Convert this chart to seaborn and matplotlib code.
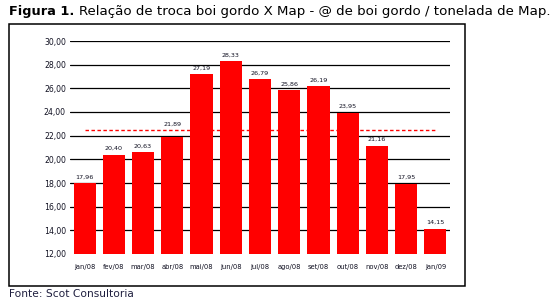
import matplotlib
matplotlib.use("Agg")
import matplotlib.pyplot as plt
import seaborn as sns
import pandas as pd
from matplotlib.ticker import FuncFormatter
from matplotlib.patches import Rectangle

months = ["jan/08", "fev/08", "mar/08", "abr/08", "mai/08", "jun/08", "jul/08",
          "ago/08", "set/08", "out/08", "nov/08", "dez/08", "jan/09"]
values = [17.96, 20.40, 20.63, 21.89, 27.19, 28.33, 26.79,
          25.86, 26.19, 23.95, 21.16, 17.95, 14.15]
average = [22.50]
y_ticks = [12, 14, 16, 18, 20, 22, 24, 26, 28, 30]

sns.set_theme(style="white")
plt.rcParams['font.family'] = ['DejaVu Sans']

W, H = 559, 302
fig = plt.figure(figsize=(W / 100, H / 100), dpi=100)
fig.patch.set_facecolor("white")

# outer frame
fig.patches.append(Rectangle((9 / W, 1 - 286 / H), (465 - 9) / W, (286 - 24) / H,
                             transform=fig.transFigure, fill=False,
                             edgecolor="black", linewidth=1.1))

ax = fig.add_axes([70 / W, 1 - 254 / H, (450 - 70) / W, (254 - 41) / H])
df = pd.DataFrame({"mes": months, "valor": values})
sns.barplot(data=df, x="mes", y="valor", color="#FF0000", saturation=1,
            width=0.76, ax=ax, zorder=3, linewidth=0, edgecolor="none")

ax.set_ylim(12, 30)
ax.set_xlim(-0.5, len(months) - 0.5)
ax.set_yticks(y_ticks)
ax.yaxis.set_major_formatter(FuncFormatter(lambda v, p: f"{v:.2f}".replace(".", ",")))
for t in y_ticks[1:]:
    ax.axhline(t, color="black", linewidth=0.9, zorder=1)

ax.plot([0, len(months) - 1], [average[0]] * 2, color="#FF0000", linewidth=1.0,
        linestyle=(0, (2.5, 1.8)), zorder=4)

labels = [f"{v:.2f}".replace(".", ",") for v in values]
anns = ax.bar_label(ax.containers[0], labels=labels, padding=2.5, fontsize=4.6,
                    color="#111122")
# the abr/08 label sits above the dashed average line
anns[3].xyann = (0, 7.5)

for s in ax.spines.values():
    s.set_visible(False)
ax.tick_params(axis="y", length=0, pad=3, labelsize=5.6, labelcolor="#111122")
ax.tick_params(axis="x", length=0, pad=7, labelsize=4.9, labelcolor="#111122")
ax.set_xlabel("")
ax.set_ylabel("")
ax.grid(False)

# title
fig.text(9 / W, 1 - 11 / H, "Figura 1.", fontsize=9.3, fontweight="bold",
         va="center", ha="left", color="black")
fig.text(79 / W, 1 - 11 / H, "Relação de troca boi gordo X Map - @ de boi gordo / tonelada de Map.",
         fontsize=9.6, va="center", ha="left", color="black")

fig.text(9 / W, 1 - 294 / H, "Fonte: Scot Consultoria", fontsize=7.7,
         va="center", ha="left", color="#1f1f3f")

fig.savefig("out.png", dpi=100, facecolor="white")
